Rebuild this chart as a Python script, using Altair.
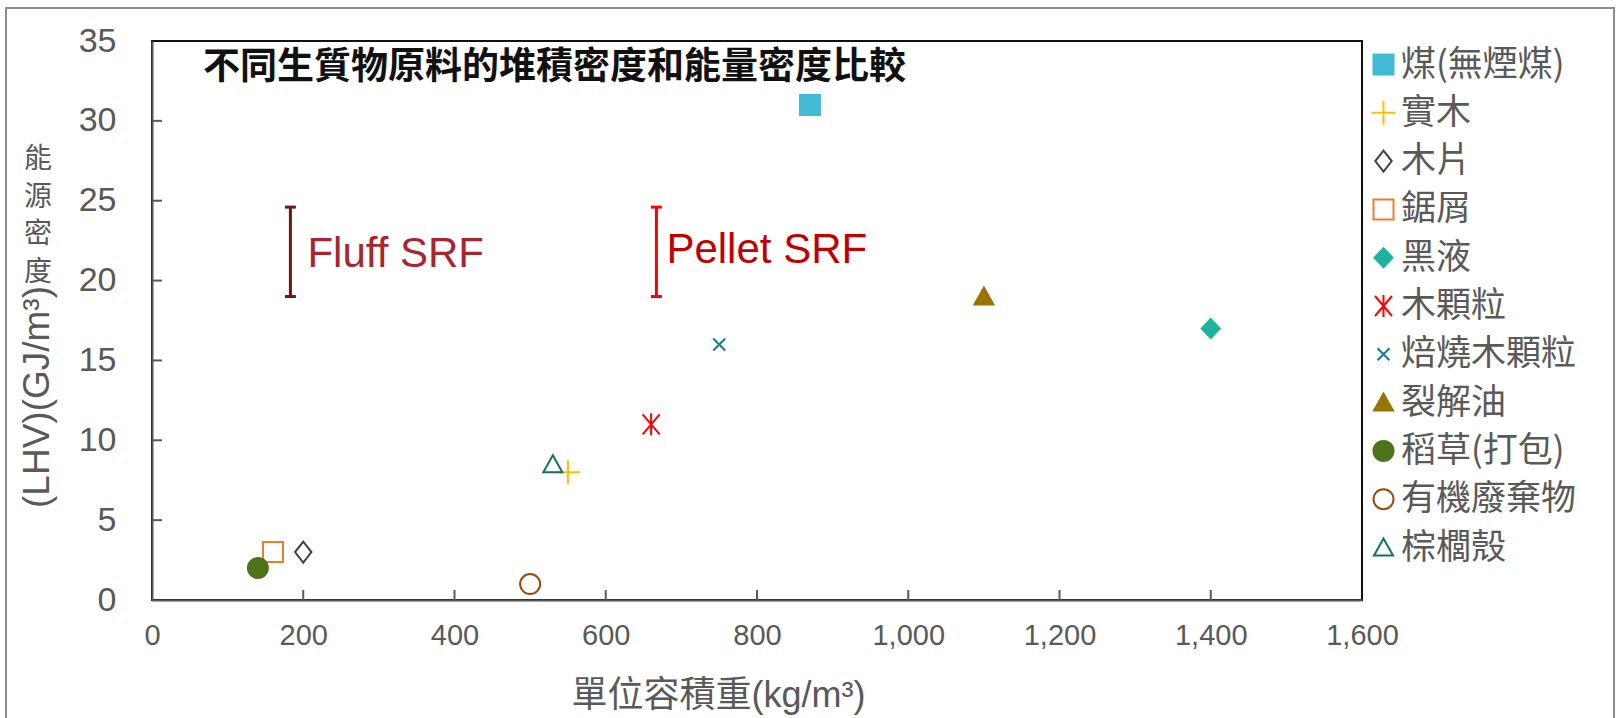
import altair as alt
import pandas as pd

# ---------------- data ----------------
names = ["煤(無煙煤)", "實木", "木片", "鋸屑", "黑液", "木顆粒", "焙燒木顆粒",
         "裂解油", "稻草(打包)", "有機廢棄物", "棕櫚殼"]
bulk_density = [870, 550, 200, 160, 1400, 660, 750, 1100, 140, 500, 530]
energy_density = [31, 8, 3, 3, 17, 11, 16, 19, 2, 1, 8.5]

srf_names = ["Fluff SRF", "Pellet SRF"]
srf_density = [183, 667]
srf_low = [19.0, 19.0]
srf_high = [24.6, 24.6]

x_ticks = [0, 200, 400, 600, 800, 1000, 1200, 1400, 1600]
y_ticks = [0, 5, 10, 15, 20, 25, 30, 35]

chart_title = "不同生質物原料的堆積密度和能量密度比較"
x_title = "單位容積重(kg/m³)"
y_title_cjk = ["能", "源", "密", "度"]
y_title_latin = "(LHV)(GJ/m³)"

# ---------------- styles ----------------
W, H = 1210, 559
GRAY = "#595959"
PLUS = "M-1.2,0H1.2M0,-1.2V1.2"
ASTER = "M-0.85,-1L0.85,1M-0.85,1L0.85,-1M0,-1.1V1.1"
XMARK = "M-0.6,-0.6L0.6,0.6M-0.6,0.6L0.6,-0.6"
TRI = "M0,-0.9L0.95,0.8L-0.95,0.8Z"
DIA = "M0,-0.95L0.9,0L0,0.95L-0.9,0Z"
NDIA = "M0,-1.05L0.82,0L0,1.05L-0.82,0Z"
shapes = ["square", PLUS, NDIA, "square", DIA, ASTER, XMARK, TRI, "circle", "circle", TRI]
strokes = ["#41BBD6", "#FFC000", "#404040", "#ED7D31", "#1DB39F", "#FF0000",
           "#1F7A8C", "#997300", "#4E7219", "#9E480E", "#17705F"]
fills = ["#41BBD6", "transparent", "transparent", "transparent", "#1DB39F",
         "transparent", "transparent", "#997300", "#4E7219", "transparent", "transparent"]

df = pd.DataFrame({"name": names, "density": bulk_density, "energy": energy_density})
df_srf = pd.DataFrame({"srf": srf_names, "density": srf_density,
                       "low": srf_low, "high": srf_high})

xscale = alt.Scale(domain=[0, 1600], nice=False, zero=False)
yscale = alt.Scale(domain=[0, 35], nice=False, zero=False)

legend = alt.Legend(title=None, orient="none", legendX=1214, legendY=6,
                    labelFont="Noto Sans CJK TC", labelFontSize=35, labelColor=GRAY,
                    symbolSize=400, symbolStrokeWidth=2, rowPadding=12.3,
                    labelOffset=0, padding=0, labelLimit=400)

points = alt.Chart(df).mark_point(filled=True, opacity=1, strokeWidth=2, size=400).encode(
    x=alt.X("density:Q", scale=xscale,
            axis=alt.Axis(values=x_ticks, format=",.0f", labelFont="Liberation Sans",
                          labelFontSize=29, labelColor=GRAY, labelPadding=21,
                          tickSize=0, domainColor=GRAY, domainWidth=2, grid=False,
                          labelFlush=False, labelOverlap=False,
                          title=x_title, titleFont="Liberation Sans, Noto Sans CJK TC",
                          titleFontSize=36, titleFontWeight="normal", titleColor=GRAY,
                          titleX=566, titleY=95, titleBaseline="middle", titleAlign="center")),
    y=alt.Y("energy:Q", scale=yscale,
            axis=alt.Axis(values=y_ticks, labelFont="Liberation Sans", labelFontSize=34,
                          labelColor=GRAY, labelPadding=36, tickSize=0,
                          domainColor=GRAY, domainWidth=2, grid=False,
                          labelFlush=False, labelOverlap=False, title=None)),
    shape=alt.Shape("name:N", scale=alt.Scale(domain=names, range=shapes), legend=legend),
    fill=alt.Fill("name:N", scale=alt.Scale(domain=names, range=fills), legend=legend),
    stroke=alt.Stroke("name:N", scale=alt.Scale(domain=names, range=strokes), legend=legend),
)

# inner axis ticks
ytick_df = pd.DataFrame({"energy": y_ticks[1:-1]})
yticks = alt.Chart(ytick_df).mark_rule(color=GRAY, strokeWidth=2).encode(
    y="energy:Q", x=alt.value(0), x2=alt.value(10))
xtick_df = pd.DataFrame({"density": x_ticks[1:-1]})
xticks = alt.Chart(xtick_df).mark_rule(color=GRAY, strokeWidth=2).encode(
    x="density:Q", y=alt.value(H), y2=alt.value(H - 10))

# SRF range bars
srf_color = alt.Color("srf:N", scale=alt.Scale(domain=srf_names, range=["#6E1519", "#FF0000"]),
                      legend=None)
srf_rule = alt.Chart(df_srf).mark_rule(strokeWidth=3).encode(
    x="density:Q", y="low:Q", y2="high:Q", color=srf_color)
CAP = "M-1,0H1"
srf_cap_lo = alt.Chart(df_srf).mark_point(shape=CAP, size=121, strokeWidth=3, filled=False, opacity=1).encode(
    x="density:Q", y="low:Q", color=srf_color)
srf_cap_hi = alt.Chart(df_srf).mark_point(shape=CAP, size=121, strokeWidth=3, filled=False, opacity=1).encode(
    x="density:Q", y="high:Q", color=srf_color)

df_srf_mid = df_srf.assign(mid=(df_srf["low"] + df_srf["high"]) / 2)
fluff_txt = alt.Chart(df_srf_mid[df_srf_mid.srf == "Fluff SRF"]).mark_text(
    align="left", baseline="middle", dx=17, dy=2, font="Liberation Sans", fontSize=42,
    color="#A8262E").encode(x="density:Q", y="mid:Q", text="srf:N")
pellet_txt = alt.Chart(df_srf_mid[df_srf_mid.srf == "Pellet SRF"]).mark_text(
    align="left", baseline="middle", dx=10, dy=-2, font="Liberation Sans", fontSize=42,
    color="#C00000").encode(x="density:Q", y="mid:Q", text="srf:N")

one = pd.DataFrame({"t": [chart_title]})
title_txt = alt.Chart(one).mark_text(
    align="left", baseline="middle", font="Noto Sans CJK TC", fontSize=37,
    fontWeight="bold", color="#111111").encode(
    x=alt.value(51), y=alt.value(27), text="t:N")

ycjk = alt.Chart(one).mark_text(
    align="center", baseline="middle", font="Noto Sans CJK TC", fontSize=28,
    lineHeight=37.5, color=GRAY).encode(
    x=alt.value(38 - 152), y=alt.value(160 - 41), text=alt.value(y_title_cjk))
ylat = alt.Chart(one).mark_text(
    align="center", baseline="middle", font="Liberation Sans", fontSize=37,
    angle=270, color=GRAY).encode(
    x=alt.value(38 - 152), y=alt.value(397 - 41), text=alt.value(y_title_latin))

frame = alt.Chart(one).mark_rect(fill="transparent", stroke="#8C8C8C", strokeWidth=2).encode(
    x=alt.value(6 - 152), x2=alt.value(1614 - 152), y=alt.value(8 - 41), y2=alt.value(740 - 41))

chart = alt.layer(
    frame, yticks, xticks, srf_rule, srf_cap_lo, srf_cap_hi, fluff_txt, pellet_txt,
    title_txt, ycjk, ylat, points
).properties(
    width=W, height=H,
    autosize=alt.AutoSizeParams(type="none"),
    padding={"left": 152, "top": 41, "right": 1621 - 152 - W, "bottom": 718 - 41 - H},
    background="white",
).configure_view(stroke="#111111", strokeWidth=2)

chart.save("out.html", embed_options={"renderer": "svg", "actions": False})
